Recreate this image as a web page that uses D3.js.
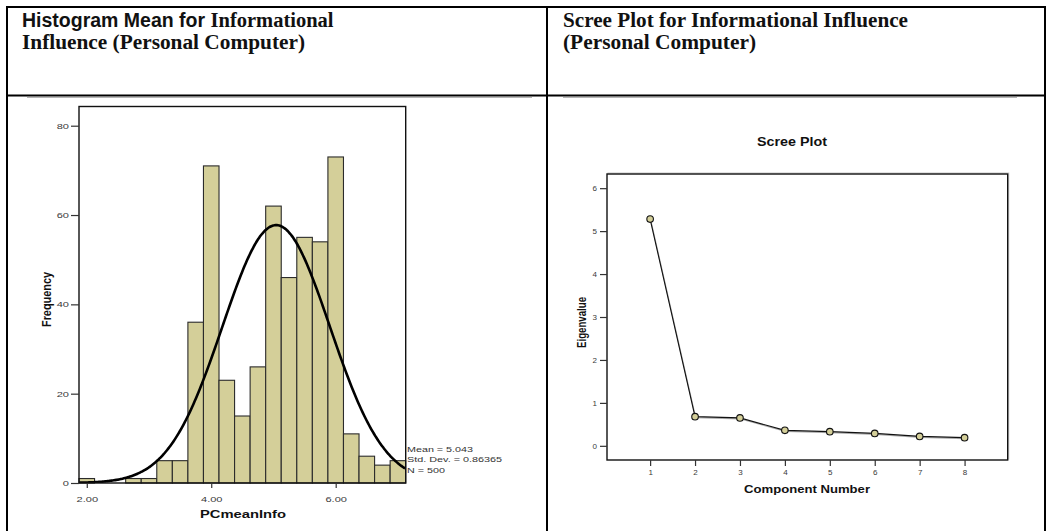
<!DOCTYPE html>
<html>
<head>
<meta charset="utf-8">
<script src="https://cdn.jsdelivr.net/npm/d3@7"></script>
<style>
  html, body { margin: 0; padding: 0; background: #fff; }
  svg { display: block; }
  .sans { font-family: "Liberation Sans", Arial, sans-serif; }
  .serif { font-family: "Liberation Serif", "Times New Roman", serif; }
</style>
</head>
<body>
<svg id="page" width="1048" height="531"></svg>
<script>
// ---- Histogram data: PCmeanInfo, bins of width 0.25 ----
const histBinCenters = [2.00, 2.25, 2.50, 2.75, 3.00, 3.25, 3.50, 3.75, 4.00, 4.25, 4.50,
                        4.75, 5.00, 5.25, 5.50, 5.75, 6.00, 6.25, 6.50, 6.75, 7.00];
const histFrequencies = [1, 0, 0, 1, 1, 5, 5, 36, 71, 23, 15,
                         26, 62, 46, 55, 54, 73, 11, 6, 4, 5];
const binWidth = 0.25;
const meanInfo = 5.043;
const sdInfo = 0.86365;
const nInfo = 500;
const histXTicks = [2, 4, 6];
const histYTicks = [0, 20, 40, 60, 80];

// ---- Scree plot data ----
const components = [1, 2, 3, 4, 5, 6, 7, 8];
const eigenvalues = [5.28, 0.68, 0.65, 0.36, 0.33, 0.29, 0.22, 0.19];
const screeYTicks = [0, 1, 2, 3, 4, 5, 6];

const BAR_FILL = "#d4cf99";
const svg = d3.select("#page");

// stretch a text element horizontally along its run
function widen(sel, k) {
  sel.each(function () {
    const w = this.getComputedTextLength();
    this.setAttribute("textLength", (w * k).toFixed(2));
    this.setAttribute("lengthAdjust", "spacingAndGlyphs");
  });
}
function fitLength(sel, len) {
  sel.attr("textLength", len).attr("lengthAdjust", "spacingAndGlyphs");
}

// ---------- table frame ----------
const table = svg.append("g");
const hline = (x1, x2, y, w, c) => table.append("line")
  .attr("x1", x1).attr("x2", x2).attr("y1", y).attr("y2", y)
  .attr("stroke", c || "#000").attr("stroke-width", w);
const vline = (x, y1, y2, w) => table.append("line")
  .attr("x1", x).attr("x2", x).attr("y1", y1).attr("y2", y2)
  .attr("stroke", "#000").attr("stroke-width", w);
hline(6, 1046, 7, 2);
hline(6, 1046, 95.5, 2);
hline(27, 532, 97.5, 1, "#b5b5b5");
hline(563, 1017, 97.5, 1, "#b5b5b5");
vline(7, 6, 531, 2);
vline(547, 6, 531, 2);
vline(1045, 6, 531, 2);

// ---------- cell titles ----------
const titleFill = "#111";
const t1 = svg.append("text").attr("x", 22).attr("y", 26.5).attr("font-weight", "bold").attr("fill", titleFill);
t1.append("tspan").attr("class", "sans").attr("font-size", 19.5).text("Histogram Mean for ");
t1.append("tspan").attr("class", "serif").attr("font-size", 20.5).text("Informational");
svg.append("text").attr("class", "serif").attr("x", 22).attr("y", 49)
  .attr("font-weight", "bold").attr("font-size", 20.5).attr("fill", titleFill)
  .text("Influence (Personal Computer)").call(fitLength, 283);
svg.append("text").attr("class", "serif").attr("x", 563).attr("y", 26.5)
  .attr("font-weight", "bold").attr("font-size", 20.5).attr("fill", titleFill)
  .text("Scree Plot for Informational Influence").call(fitLength, 345);
svg.append("text").attr("class", "serif").attr("x", 563).attr("y", 49)
  .attr("font-weight", "bold").attr("font-size", 20.5).attr("fill", titleFill)
  .text("(Personal Computer)").call(fitLength, 193);

// ---------- histogram ----------
const hx = d3.scaleLinear().domain([1.875, 7.125]).range([79, 405.7]);
const hy = d3.scaleLinear().domain([0, 84.3]).range([483, 106.5]);
const hist = svg.append("g").attr("class", "sans");

hist.append("g").selectAll("rect")
  .data(histBinCenters.map((c, i) => ({ c, f: histFrequencies[i] })).filter(d => d.f > 0))
  .join("rect")
  .attr("x", d => hx(d.c - binWidth / 2))
  .attr("width", d => hx(d.c + binWidth / 2) - hx(d.c - binWidth / 2))
  .attr("y", d => hy(d.f))
  .attr("height", d => hy(0) - hy(d.f))
  .attr("fill", BAR_FILL)
  .attr("stroke", "#2b2b2b")
  .attr("stroke-width", 1.1);

// fitted normal curve scaled to counts per bin
const peak = nInfo * binWidth / (sdInfo * Math.sqrt(2 * Math.PI));
const curveXs = d3.range(1.875, 7.1251, 0.02);
const normal = v => peak * Math.exp(-0.5 * Math.pow((v - meanInfo) / sdInfo, 2));
svg.append("clipPath").attr("id", "histClip").append("rect")
  .attr("x", 79).attr("y", 106.5).attr("width", 405.7 - 79).attr("height", 483 - 106.5);
hist.append("path")
  .datum(curveXs)
  .attr("clip-path", "url(#histClip)")
  .attr("fill", "none").attr("stroke", "#000").attr("stroke-width", 2.6)
  .attr("d", d3.line().x(d => hx(d)).y(d => hy(normal(d))).curve(d3.curveBasis));

hist.append("rect")
  .attr("x", 79).attr("y", 106.5).attr("width", 405.7 - 79).attr("height", 483 - 106.5)
  .attr("fill", "none").attr("stroke", "#111").attr("stroke-width", 1.4);

const hYAxis = hist.append("g").attr("transform", "translate(79,0)")
  .call(d3.axisLeft(hy).tickValues(histYTicks).tickSize(8).tickPadding(2).tickFormat(d3.format("d")));
const hXAxis = hist.append("g").attr("transform", "translate(0,483)")
  .call(d3.axisBottom(hx).tickValues(histXTicks).tickSize(5).tickPadding(8).tickFormat(d3.format(".2f")));
[hYAxis, hXAxis].forEach(a => {
  a.select(".domain").remove();
  a.selectAll("line").attr("stroke", "#333").attr("stroke-width", 1.2);
  a.selectAll("text").attr("font-size", 8).attr("fill", "#3a3a3a")
    .attr("font-family", "'Liberation Sans', Arial, sans-serif").call(widen, 1.38);
});

hist.append("text").attr("x", 243).attr("y", 518).attr("text-anchor", "middle")
  .attr("font-size", 11.5).attr("font-weight", "bold").attr("fill", "#111")
  .text("PCmeanInfo").call(fitLength, 86);
hist.append("text").attr("transform", "translate(51,299.5) rotate(-90)")
  .attr("text-anchor", "middle").attr("font-size", 13.5).attr("font-weight", "bold").attr("fill", "#111")
  .text("Frequency").call(fitLength, 55);

const stats = [
  { t: `Mean = ${meanInfo.toFixed(3)}`, w: 66 },
  { t: `Std. Dev. = ${sdInfo}`, w: 95 },
  { t: `N = ${nInfo}`, w: 38 }
];
hist.append("g").selectAll("text").data(stats).join("text")
  .attr("x", 407).attr("y", (d, i) => 451.5 + i * 10.7)
  .attr("font-size", 8).attr("fill", "#333")
  .text(d => d.t)
  .each(function (d) { d3.select(this).call(fitLength, d.w); });

// ---------- scree plot ----------
const sx = d3.scaleLinear().domain([0.04, 8.96]).range([607, 1007.7]);
const sy = d3.scaleLinear().domain([-0.33, 6.33]).range([460, 174]);
const scree = svg.append("g").attr("class", "sans");

scree.append("text").attr("x", 792).attr("y", 146).attr("text-anchor", "middle")
  .attr("font-size", 13).attr("font-weight", "bold").attr("fill", "#111")
  .text("Scree Plot").call(fitLength, 70);

// soft edge behind the frame
scree.append("rect")
  .attr("x", 608).attr("y", 173).attr("width", 1007.7 - 607).attr("height", 460 - 174)
  .attr("fill", "none").attr("stroke", "#d0d0d0").attr("stroke-width", 1.2);
scree.append("rect")
  .attr("x", 607).attr("y", 174).attr("width", 1007.7 - 607).attr("height", 460 - 174)
  .attr("fill", "#fff").attr("stroke", "#111").attr("stroke-width", 1.4);

const pts = components.map((c, i) => ({ c, v: eigenvalues[i] }));
const screeLine = d3.line().x(d => sx(d.c)).y(d => sy(d.v));
scree.append("path").datum(pts)
  .attr("fill", "none").attr("stroke", "#aaa").attr("stroke-width", 1.2)
  .attr("transform", "translate(0.6,1)")
  .attr("d", screeLine);
scree.append("path").datum(pts)
  .attr("fill", "none").attr("stroke", "#111").attr("stroke-width", 1.1)
  .attr("d", screeLine);
scree.append("g").selectAll("circle").data(pts).join("circle")
  .attr("cx", d => sx(d.c)).attr("cy", d => sy(d.v)).attr("r", 3.3)
  .attr("fill", BAR_FILL).attr("stroke", "#111").attr("stroke-width", 1.1);

const sYAxis = scree.append("g").attr("transform", "translate(607,0)")
  .call(d3.axisLeft(sy).tickValues(screeYTicks).tickSize(7).tickPadding(3).tickFormat(d3.format("d")));
const sXAxis = scree.append("g").attr("transform", "translate(0,460)")
  .call(d3.axisBottom(sx).tickValues(components).tickSize(6).tickPadding(4).tickFormat(d3.format("d")));
[sYAxis, sXAxis].forEach(a => {
  a.select(".domain").remove();
  a.selectAll("line").attr("stroke", "#333").attr("stroke-width", 1.2);
  a.selectAll("text").attr("font-size", 7).attr("fill", "#3a3a3a")
    .attr("font-family", "'Liberation Sans', Arial, sans-serif").call(widen, 1.15);
});

scree.append("text").attr("x", 807).attr("y", 492.5).attr("text-anchor", "middle")
  .attr("font-size", 11.5).attr("font-weight", "bold").attr("fill", "#111")
  .text("Component Number").call(fitLength, 126);
scree.append("text").attr("transform", "translate(586,322.5) rotate(-90)")
  .attr("text-anchor", "middle").attr("font-size", 12).attr("font-weight", "bold").attr("fill", "#111")
  .text("Eigenvalue").call(fitLength, 51);
</script>
</body>
</html>
